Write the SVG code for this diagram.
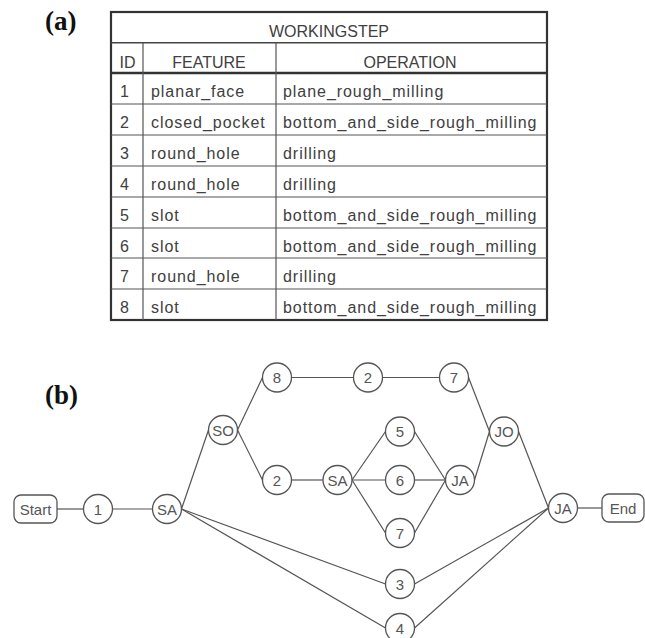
<svg xmlns="http://www.w3.org/2000/svg" width="645" height="638" viewBox="0 0 645 638">
<style>
.lbl{font-family:"Liberation Serif","Times New Roman",serif;font-weight:bold;font-size:27px;fill:#111}
.th{font-family:"Liberation Sans",Arial,sans-serif;font-size:16px;fill:#404040;text-anchor:middle}
.td{font-family:"Liberation Sans",Arial,sans-serif;font-size:16px;fill:#404040;letter-spacing:0.95px}
.rl{stroke:#555;stroke-width:1.2}
.node circle,.node rect{fill:#fff;stroke:#555;stroke-width:1.3}
.node text{font-family:"Liberation Sans",Arial,sans-serif;font-size:15px;fill:#555;text-anchor:middle}
#edges line{stroke:#555;stroke-width:1.2}
</style>
<rect width="645" height="638" fill="#fff"/>
<text class="lbl" x="45" y="30">(a)</text>
<text class="lbl" x="45" y="404">(b)</text>

<g id="table">
<rect x="111" y="12" width="436" height="308" fill="#fff" stroke="#333" stroke-width="2.2"/>
<line x1="111" y1="42.7" x2="547" y2="42.7" stroke="#444" stroke-width="1.5"/>
<line x1="111" y1="73" x2="547" y2="73" stroke="#333" stroke-width="2.6"/>
<line class="rl" x1="111" y1="104" x2="547" y2="104"/>
<line class="rl" x1="111" y1="135" x2="547" y2="135"/>
<line class="rl" x1="111" y1="166" x2="547" y2="166"/>
<line class="rl" x1="111" y1="197" x2="547" y2="197"/>
<line class="rl" x1="111" y1="228" x2="547" y2="228"/>
<line class="rl" x1="111" y1="258" x2="547" y2="258"/>
<line class="rl" x1="111" y1="289" x2="547" y2="289"/>
<line class="rl" x1="143" y1="43" x2="143" y2="320"/>
<line class="rl" x1="276" y1="43" x2="276" y2="320"/>
<text class="th" x="329" y="37">WORKINGSTEP</text>
<text class="th" x="127.5" y="68">ID</text>
<text class="th" x="209" y="68">FEATURE</text>
<text class="th" x="410" y="68">OPERATION</text>
<text class="td" x="120" y="97">1</text><text class="td" x="151" y="97">planar_face</text><text class="td" x="283" y="97">plane_rough_milling</text>
<text class="td" x="120" y="128">2</text><text class="td" x="151" y="128">closed_pocket</text><text class="td" x="283" y="128">bottom_and_side_rough_milling</text>
<text class="td" x="120" y="159">3</text><text class="td" x="151" y="159">round_hole</text><text class="td" x="283" y="159">drilling</text>
<text class="td" x="120" y="190">4</text><text class="td" x="151" y="190">round_hole</text><text class="td" x="283" y="190">drilling</text>
<text class="td" x="120" y="221">5</text><text class="td" x="151" y="221">slot</text><text class="td" x="283" y="221">bottom_and_side_rough_milling</text>
<text class="td" x="120" y="252">6</text><text class="td" x="151" y="252">slot</text><text class="td" x="283" y="252">bottom_and_side_rough_milling</text>
<text class="td" x="120" y="282">7</text><text class="td" x="151" y="282">round_hole</text><text class="td" x="283" y="282">drilling</text>
<text class="td" x="120" y="313">8</text><text class="td" x="151" y="313">slot</text><text class="td" x="283" y="313">bottom_and_side_rough_milling</text>
</g>

<g id="edges">
<line x1="57" y1="509" x2="83.5" y2="509"/>
<line x1="112.5" y1="509" x2="152.5" y2="509"/>
<line x1="181.5" y1="509" x2="208.5" y2="430"/>
<line x1="237.5" y1="430" x2="262.5" y2="377.5"/>
<line x1="237.5" y1="430" x2="262.5" y2="480"/>
<line x1="291.5" y1="377.5" x2="353.5" y2="377.5"/>
<line x1="382.5" y1="377.5" x2="439.5" y2="377.5"/>
<line x1="468.5" y1="377.5" x2="489.5" y2="431.5"/>
<line x1="291.5" y1="480" x2="323" y2="480"/>
<line x1="352" y1="480" x2="385.5" y2="431.5"/>
<line x1="352" y1="480" x2="385.5" y2="480"/>
<line x1="352" y1="480" x2="385.5" y2="533"/>
<line x1="414.5" y1="431.5" x2="445.5" y2="480"/>
<line x1="414.5" y1="480" x2="445.5" y2="480"/>
<line x1="414.5" y1="533" x2="445.5" y2="480"/>
<line x1="474.5" y1="480" x2="489.5" y2="431.5"/>
<line x1="518.5" y1="431.5" x2="548.5" y2="508"/>
<line x1="181.5" y1="509" x2="385.5" y2="584"/>
<line x1="181.5" y1="509" x2="385.5" y2="628"/>
<line x1="414.5" y1="584" x2="548.5" y2="508"/>
<line x1="414.5" y1="628" x2="548.5" y2="508"/>
<line x1="577.5" y1="508" x2="602" y2="508"/>
</g>

<g id="start" class="node"><rect x="14" y="495" width="43" height="28" rx="7"/><text x="35.5" y="514.5">Start</text></g>
<g id="n1" class="node"><circle cx="98" cy="509" r="14.5"/><text x="98" y="514.5">1</text></g>
<g id="sa1" class="node"><circle cx="167" cy="509" r="14.5"/><text x="167" y="514.5">SA</text></g>
<g id="so" class="node"><circle cx="223" cy="430" r="14.5"/><text x="223" y="435.5">SO</text></g>
<g id="n8" class="node"><circle cx="277" cy="377.5" r="14.5"/><text x="277" y="383">8</text></g>
<g id="n2a" class="node"><circle cx="368" cy="377.5" r="14.5"/><text x="368" y="383">2</text></g>
<g id="n7a" class="node"><circle cx="454" cy="377.5" r="14.5"/><text x="454" y="383">7</text></g>
<g id="n2b" class="node"><circle cx="277" cy="480" r="14.5"/><text x="277" y="485.5">2</text></g>
<g id="sa2" class="node"><circle cx="337.5" cy="480" r="14.5"/><text x="337.5" y="485.5">SA</text></g>
<g id="n5" class="node"><circle cx="400" cy="431.5" r="14.5"/><text x="400" y="437">5</text></g>
<g id="n6" class="node"><circle cx="400" cy="480" r="14.5"/><text x="400" y="485.5">6</text></g>
<g id="n7b" class="node"><circle cx="400" cy="533" r="14.5"/><text x="400" y="538.5">7</text></g>
<g id="ja1" class="node"><circle cx="460" cy="480" r="14.5"/><text x="460" y="485.5">JA</text></g>
<g id="jo" class="node"><circle cx="504" cy="431.5" r="14.5"/><text x="504" y="437">JO</text></g>
<g id="ja2" class="node"><circle cx="563" cy="508" r="14.5"/><text x="563" y="513.5">JA</text></g>
<g id="n3" class="node"><circle cx="400" cy="584" r="14.5"/><text x="400" y="589.5">3</text></g>
<g id="n4" class="node"><circle cx="400" cy="628" r="14.5"/><text x="400" y="633.5">4</text></g>
<g id="end" class="node"><rect x="602" y="494" width="42" height="28" rx="7"/><text x="623" y="513.5">End</text></g>
</svg>
